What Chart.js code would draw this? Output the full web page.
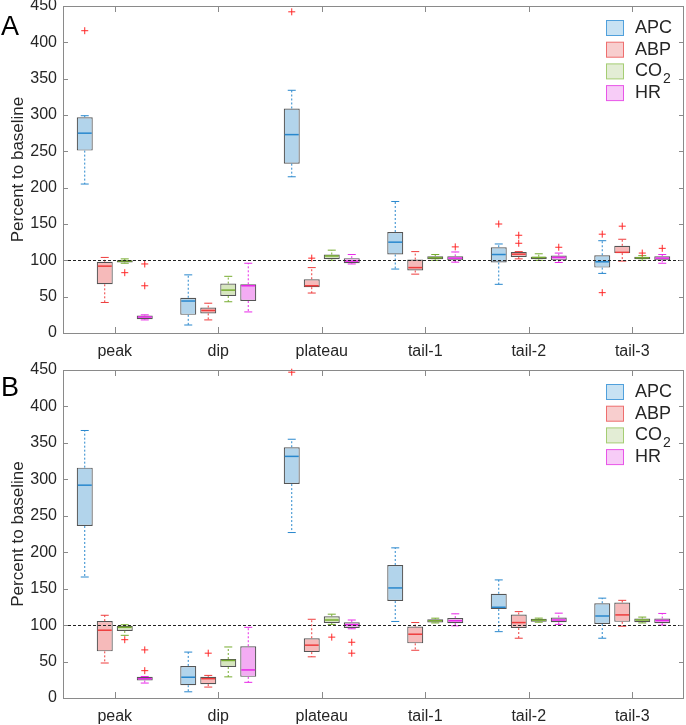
<!DOCTYPE html>
<html>
<head>
<meta charset="utf-8">
<script src="https://cdn.jsdelivr.net/npm/chart.js@4.4.1/dist/chart.umd.min.js"></script>
<style>
  html, body { margin: 0; padding: 0; background: #fff; }
  canvas { display: block; }
</style>
</head>
<body>
<canvas id="chartA" width="686" height="362"></canvas>
<canvas id="chartB" width="686" height="363"></canvas>
<script>
const groups = ['peak', 'dip', 'plateau', 'tail-1', 'tail-2', 'tail-3']
const seriesNames = ['APC', 'ABP', 'CO2', 'HR']

// each entry: [lower whisker, q1, median, q3, upper whisker]
const apcA = [[205, 251, 275, 297, 299], [11, 25, 44, 48.5, 80], [215, 233, 273, 309, 334], [88, 108, 125, 139, 181], [67, 97, 108, 118, 122.5], [82, 90, 98, 107, 127]]
const abpA = [[42, 67, 92, 98, 104], [18, 27, 31, 35, 41], [55, 63, 65, 74, 90], [81, 86, 90, 101, 112], [102, 104.5, 108.5, 111.5, 112], [99, 110, 111, 120, 129]]
const co2A = [[96, 97, 99, 100, 102], [43, 51, 59, 68, 78], [100, 101.5, 106, 108, 114], [100, 101.5, 103.5, 105.5, 108], [100, 101.5, 104, 105, 109], [100, 101.5, 103.5, 105, 106.5]]
const hrA = [[18, 19, 22, 24, 25], [29, 44, 65, 67, 96], [95, 96, 99, 103, 108], [97.5, 100, 103, 105.5, 111.5], [97, 100, 104, 106.5, 110], [96, 100, 103, 105.5, 108]]

const apcAOut = [[416], [], [442], [], [150], [136, 55.5]]
const abpAOut = [[], [], [103], [], [134.5, 123.5], [147]]
const co2AOut = [[83], [], [], [], [], [110]]
const hrAOut = [[95, 65], [], [], [118.5], [118], [116.5]]

const apcB = [[166, 236, 292, 316, 367], [8.5, 17.5, 28.5, 44, 63], [227, 293.5, 331.5, 344, 355], [105, 133, 151, 182.5, 206], [91, 122, 124.5, 143, 162], [82, 101.5, 112.5, 130, 137]]
const abpB = [[48, 64, 93, 105.5, 113.5], [15, 19, 26.5, 29, 31], [56.5, 63, 72.5, 82, 108], [65.5, 75, 87.5, 98, 103.5], [82, 96, 103.5, 114.5, 118.5], [98.5, 104.5, 114, 131, 134]]
const co2B = [[86, 92, 97, 99, 100.5], [29, 42.5, 51.5, 53.5, 70], [101, 103, 107, 112, 115], [103, 103.5, 106, 108, 109.5], [104, 104.5, 106.8, 108.6, 109.6], [103, 104, 107, 109, 111]]
const hrB = [[20.5, 24, 26.5, 29, 29.5], [21.5, 29, 38.5, 71, 97], [95, 96, 100.5, 104, 107], [99, 102.7, 106, 109.6, 115.5], [101, 104, 107, 110.4, 116.4], [100, 102.7, 106.3, 109, 116]]

const apcBOut = [[], [], [447], [], [], []]
const abpBOut = [[], [61.5], [], [], [], []]
const co2BOut = [[80], [], [83.5], [], [], []]
const hrBOut = [[66, 37.5], [], [76.5, 61.5], [], [], []]

const fills = ['rgb(178,212,235)', 'rgb(246,186,186)', 'rgb(214,230,190)', 'rgb(243,172,243)']
const lineColors = ['rgb(40,135,205)', 'rgb(238,60,60)', 'rgb(119,172,48)', 'rgb(232,40,232)']
const swatchFills = ['rgb(200,226,243)', 'rgb(248,206,206)', 'rgb(227,237,213)', 'rgb(247,204,247)']
const swatchEdges = ['rgb(80,160,220)', 'rgb(238,110,110)', 'rgb(165,205,115)', 'rgb(232,85,232)']
const FONT = "'Liberation Sans', Arial, sans-serif"
const TEXT = '#262626'

const boxParts = {
  id: 'boxParts',
  afterDatasetsDraw(chart) {
    const { ctx, chartArea, scales } = chart
    const y = scales.y
    ctx.save()
    chart.data.datasets.forEach((ds, i) => {
      const meta = chart.getDatasetMeta(i)
      meta.data.forEach((bar, j) => {
        const [lo, q1, med, q3, hi] = ds.stats[j]
        const x = bar.x
        const w = bar.width
        const cap = w / 4
        ctx.strokeStyle = ds.lineColor
        ctx.lineWidth = 1
        ctx.setLineDash([2, 2])
        ctx.beginPath()
        ctx.moveTo(x, y.getPixelForValue(q3))
        ctx.lineTo(x, y.getPixelForValue(hi))
        ctx.moveTo(x, y.getPixelForValue(q1))
        ctx.lineTo(x, y.getPixelForValue(lo))
        ctx.stroke()
        ctx.setLineDash([])
        ctx.beginPath()
        ctx.moveTo(x - cap, y.getPixelForValue(hi))
        ctx.lineTo(x + cap, y.getPixelForValue(hi))
        ctx.moveTo(x - cap, y.getPixelForValue(lo))
        ctx.lineTo(x + cap, y.getPixelForValue(lo))
        ctx.stroke()
        ctx.lineWidth = 1.5
        ctx.beginPath()
        ctx.moveTo(x - w / 2 + 1, y.getPixelForValue(med))
        ctx.lineTo(x + w / 2 - 1, y.getPixelForValue(med))
        ctx.stroke()
        ctx.strokeStyle = 'rgb(255,40,40)'
        ctx.lineWidth = 1
        ds.outliers[j].forEach((v) => {
          const oy = y.getPixelForValue(v)
          ctx.beginPath()
          ctx.moveTo(x - 3.5, oy)
          ctx.lineTo(x + 3.5, oy)
          ctx.moveTo(x, oy - 3.5)
          ctx.lineTo(x, oy + 3.5)
          ctx.stroke()
        })
      })
    })
    // baseline at 100 %
    const by = Math.round(y.getPixelForValue(100)) + 0.5
    ctx.strokeStyle = '#222'
    ctx.lineWidth = 1
    ctx.setLineDash([3, 2])
    ctx.beginPath()
    ctx.moveTo(chartArea.left, by)
    ctx.lineTo(chartArea.right, by)
    ctx.stroke()
    ctx.restore()
  },
}

const frame = {
  id: 'frame',
  afterDraw(chart) {
    const { ctx, chartArea: a, scales } = chart
    ctx.save()
    ctx.strokeStyle = '#8a8a8a'
    ctx.lineWidth = 1
    ctx.strokeRect(a.left + 0.5, a.top + 0.5, a.right - a.left - 1, a.bottom - a.top)
    ctx.beginPath()
    scales.y.ticks.forEach((t) => {
      const yy = Math.round(scales.y.getPixelForValue(t.value)) + 0.5
      ctx.moveTo(a.left, yy)
      ctx.lineTo(a.left + 5, yy)
      ctx.moveTo(a.right, yy)
      ctx.lineTo(a.right - 5, yy)
    })
    groups.forEach((g, i) => {
      const xx = Math.round(scales.x.getPixelForValue(i)) + 0.5
      ctx.moveTo(xx, a.top)
      ctx.lineTo(xx, a.top + 6)
      ctx.moveTo(xx, a.bottom)
      ctx.lineTo(xx, a.bottom - 6)
    })
    ctx.stroke()

    // legend
    seriesNames.forEach((name, i) => {
      const cy = a.top + 22 + i * 21.7
      ctx.fillStyle = swatchFills[i]
      ctx.strokeStyle = swatchEdges[i]
      ctx.fillRect(606.5, cy - 7.5, 17, 15)
      ctx.strokeRect(606.5, cy - 7.5, 17, 15)
      ctx.fillStyle = TEXT
      ctx.textBaseline = 'middle'
      ctx.textAlign = 'left'
      ctx.font = '18px ' + FONT
      const m = name.match(/^(\D+)(\d*)$/)
      ctx.fillText(m[1], 635, cy)
      if (m[2]) {
        const w = ctx.measureText(m[1]).width
        ctx.font = '14px ' + FONT
        ctx.fillText(m[2], 635 + w + 1, cy + 8)
      }
    })

    // panel letter
    ctx.fillStyle = '#000'
    ctx.textBaseline = 'alphabetic'
    ctx.font = '27px ' + FONT
    ctx.fillText(chart.options.panelLetter, 1, chart.options.letterY)
    ctx.restore()
  },
}

function makePanel(canvasId, stats, outliers, letter, topPad, xHeight, letterY) {
  new Chart(document.getElementById(canvasId), {
    type: 'bar',
    data: {
      labels: groups,
      datasets: seriesNames.map((name, i) => ({
        label: name,
        data: stats[i].map((s) => [s[1], s[3]]),
        stats: stats[i],
        outliers: outliers[i],
        lineColor: lineColors[i],
        backgroundColor: fills[i],
        borderColor: 'rgb(85,85,85)',
        borderWidth: 1.2,
        borderSkipped: false,
        categoryPercentage: 0.773,
        barPercentage: 0.8,
      })),
    },
    options: {
      responsive: false,
      animation: false,
      panelLetter: letter,
      letterY: letterY,
      layout: { padding: { top: topPad, right: 2, left: 0, bottom: 0 } },
      plugins: { legend: { display: false }, tooltip: { enabled: false } },
      scales: {
        x: {
          grid: { display: false, drawTicks: false },
          border: { display: false },
          ticks: { font: { family: FONT, size: 16 }, color: TEXT, padding: 9, maxRotation: 0 },
          afterFit(scale) {
            scale.height = xHeight
            scale.paddingLeft = 0
            scale.paddingRight = 0
          },
        },
        y: {
          min: 0,
          max: 450,
          grid: { display: false, drawTicks: false },
          border: { display: false },
          ticks: { stepSize: 50, font: { family: FONT, size: 16 }, color: TEXT, padding: 6 },
          title: {
            display: true,
            text: 'Percent to baseline',
            font: { family: FONT, size: 17 },
            color: TEXT,
            padding: { top: 8, bottom: 0 },
          },
          afterFit(scale) {
            scale.width = 63
            scale.paddingTop = 0
            scale.paddingBottom = 0
          },
        },
      },
    },
    plugins: [boxParts, frame],
  })
}

makePanel('chartA', [apcA, abpA, co2A, hrA], [apcAOut, abpAOut, co2AOut, hrAOut], 'A', 6, 29, 35)
makePanel('chartB', [apcB, abpB, co2B, hrB], [apcBOut, abpBOut, co2BOut, hrBOut], 'B', 8, 27, 34)
</script>
</body>
</html>
